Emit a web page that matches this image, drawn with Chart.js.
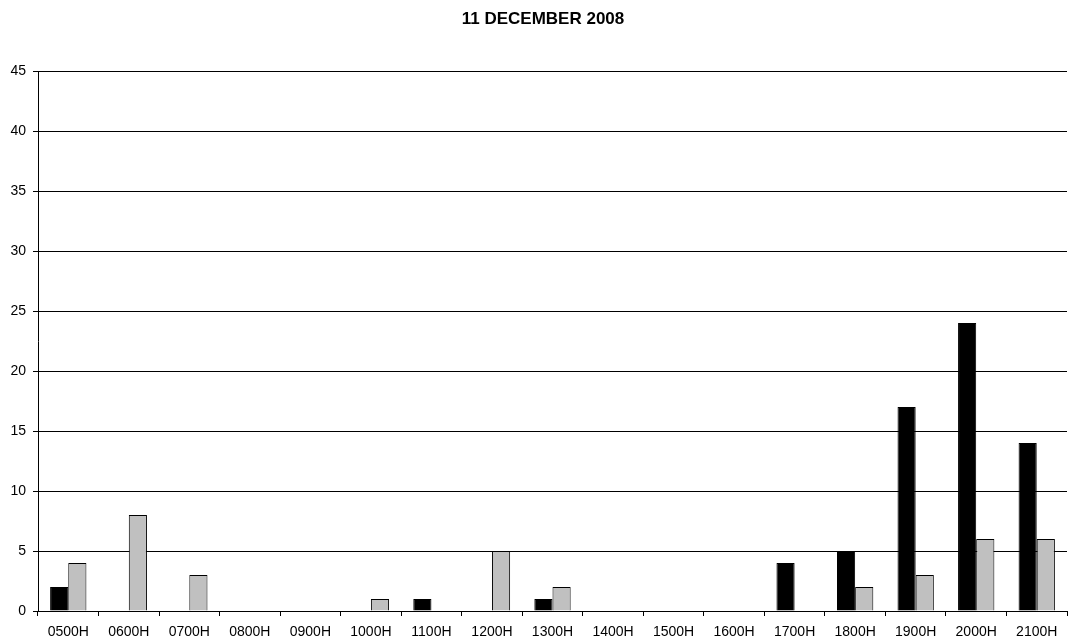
<!DOCTYPE html>
<html>
<head>
<meta charset="utf-8">
<script src="https://cdn.jsdelivr.net/npm/chart.js@4/dist/chart.umd.min.js"></script>
<style>
  html, body { margin: 0; padding: 0; background: #fff; }
  #wrap { width: 1076px; height: 642px; }
</style>
</head>
<body>
<div id="wrap"><canvas id="c" width="1076" height="642"></canvas></div>
<script>
// Hourly counts for 11 December 2008
const hours = ['0500H','0600H','0700H','0800H','0900H','1000H','1100H','1200H','1300H',
               '1400H','1500H','1600H','1700H','1800H','1900H','2000H','2100H'];
const seriesBlack = [2, 0, 0, 0, 0, 0, 1, 0, 1, 0, 0, 0, 4, 5, 17, 24, 14];
const seriesGray  = [4, 8, 3, 0, 0, 1, 0, 5, 2, 0, 0, 0, 0, 2, 3, 6, 6];
const yTicks = [0, 5, 10, 15, 20, 25, 30, 35, 40, 45];
const titleText = '11 DECEMBER 2008';

const FONT = "'Liberation Sans', Arial, sans-serif";

// Heading drawn centred above the plot
const headingPlugin = {
  id: 'heading',
  afterDraw(chart) {
    const ctx = chart.ctx;
    ctx.save();
    ctx.fillStyle = '#000';
    ctx.font = "bold 17px " + FONT;
    ctx.textAlign = 'center';
    ctx.textBaseline = 'middle';
    ctx.fillText(titleText, 543, 19);
    ctx.restore();
  }
};

new Chart(document.getElementById('c'), {
  type: 'bar',
  data: {
    labels: hours,
    datasets: [
      { data: seriesBlack, backgroundColor: '#000000', borderColor: '#000000', borderWidth: 1 },
      { data: seriesGray,  backgroundColor: '#c0c0c0', borderColor: '#000000', borderWidth: 1 }
    ]
  },
  plugins: [headingPlugin],
  options: {
    responsive: false,
    animation: false,
    devicePixelRatio: 1,
    layout: { padding: { left: 0, right: 9, top: 71, bottom: 0 } },
    datasets: { bar: { categoryPercentage: 0.6, barPercentage: 1.0 } },
    plugins: {
      legend: { display: false },
      tooltip: { enabled: false },
      title: { display: false }
    },
    scales: {
      x: {
        offset: true,
        grid: { offset: true, drawOnChartArea: false, drawTicks: true, tickLength: 5, color: '#000' },
        border: { color: '#000', width: 1 },
        ticks: { color: '#000', font: { family: FONT, size: 14 }, maxRotation: 0, autoSkip: false, padding: 8 },
        afterFit: s => { s.height = 31; }
      },
      y: {
        min: 0,
        max: 45,
        afterBuildTicks: s => { s.ticks = yTicks.map(v => ({ value: v })); },
        grid: { color: '#000', lineWidth: 1, tickLength: 5 },
        border: { color: '#000', width: 1 },
        ticks: { color: '#000', font: { family: FONT, size: 14 }, padding: 7 },
        afterFit: s => { s.width = 38; }
      }
    }
  }
});
</script>
</body>
</html>
